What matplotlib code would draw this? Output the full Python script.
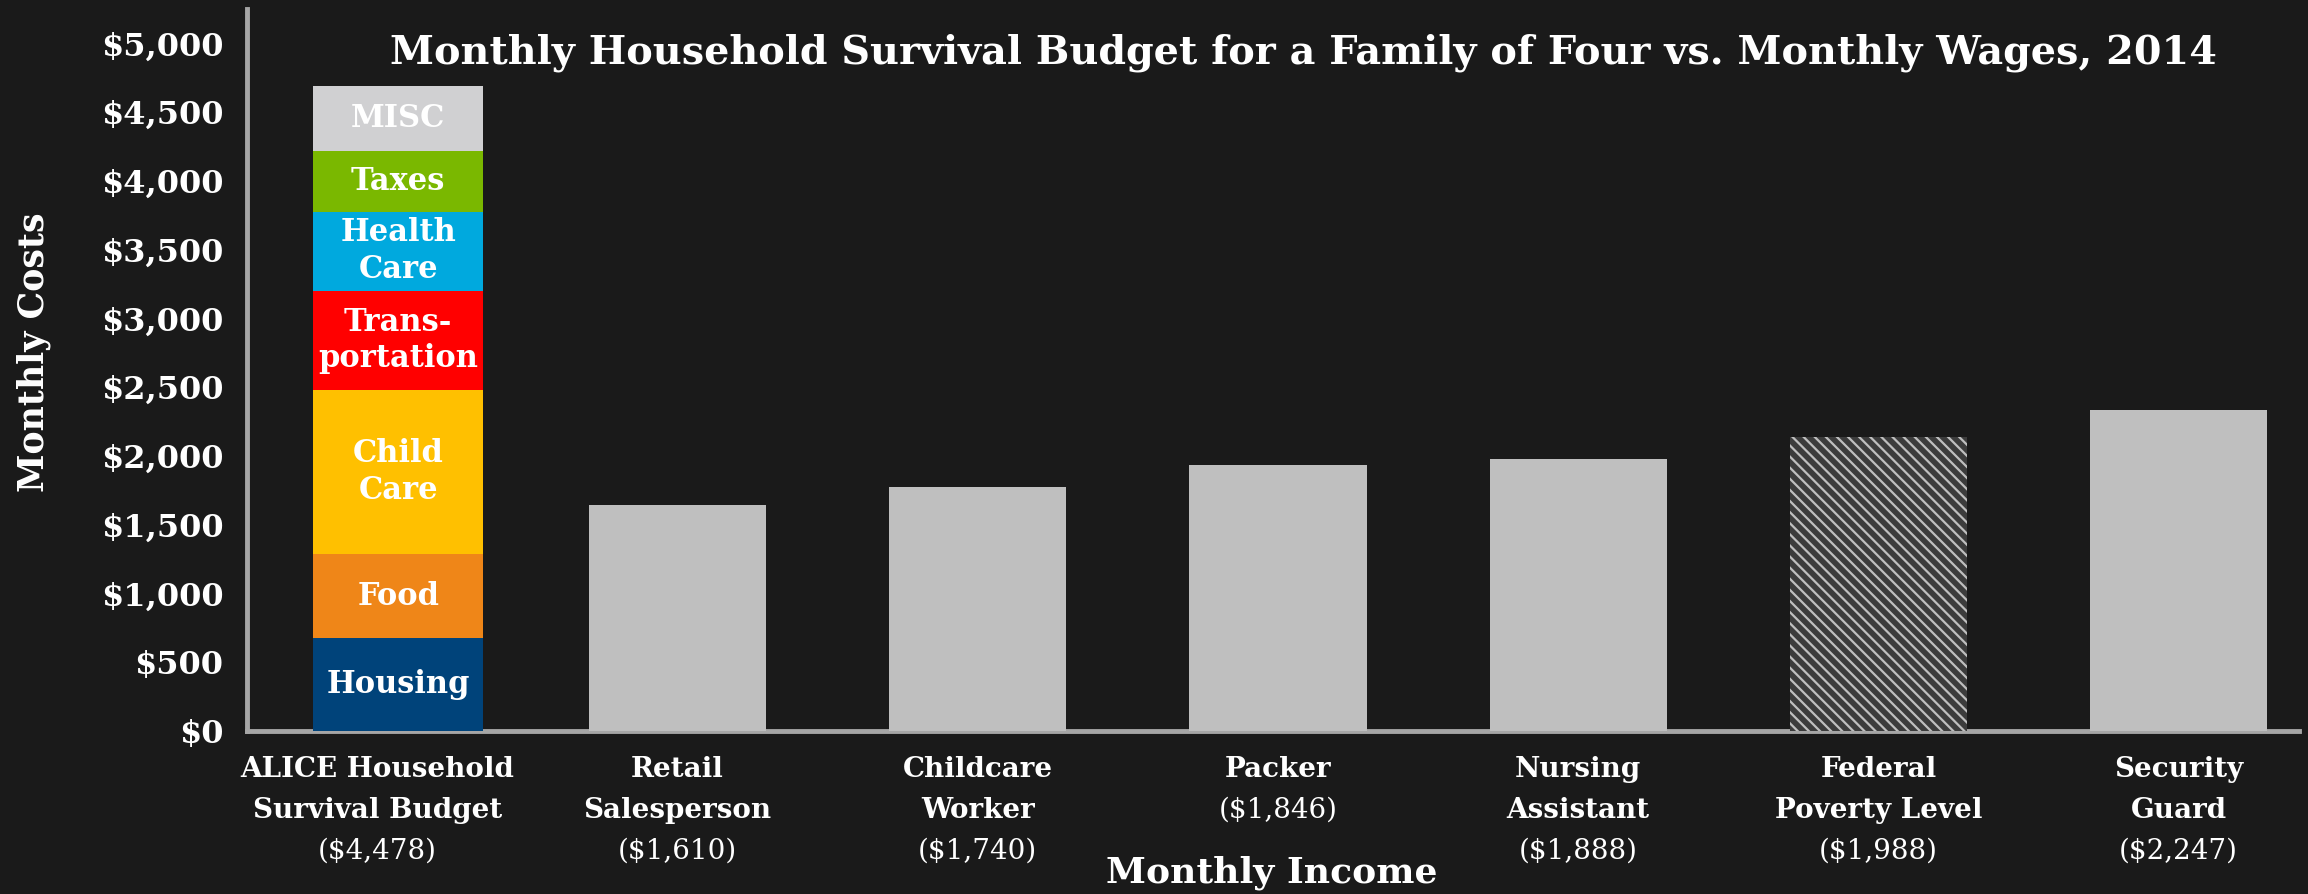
import matplotlib
matplotlib.use('Agg')
import matplotlib.pyplot as plt

# data
categories = ['ALICE Household\nSurvival Budget', 'Retail\nSalesperson', 'Childcare\nWorker',
              'Packer', 'Nursing\nAssistant', 'Federal\nPoverty Level', 'Security\nGuard']
income_labels = ['($4,478)', '($1,610)', '($1,740)', '($1,846)', '($1,888)', '($1,988)', '($2,247)']
wage_values = [1645, 1776, 1936, 1980, 2140, 2336]
budget_items = ['Housing', 'Food', 'Child\nCare', 'Trans-\nportation', 'Health\nCare', 'Taxes', 'MISC']
budget_values = [677, 609, 1196, 720, 575, 439, 471]
budget_colors = ['#00437a', '#ef8618', '#ffc000', '#ff0000', '#00a9de', '#7ab800', '#d0d0d2']
y_ticks = [0, 500, 1000, 1500, 2000, 2500, 3000, 3500, 4000, 4500, 5000]

BG = '#1a1a1a'
FG = '#ffffff'
SERIF = 'DejaVu Serif'
plt.rcParams['hatch.linewidth'] = 1.6

W, H = 2308, 894
fig = plt.figure(figsize=(W / 100, H / 100), dpi=100, facecolor=BG)
ax = fig.add_axes([247 / W, (H - 731) / H, (2299 - 247) / W, (731 - 9) / H])
ax.set_facecolor(BG)

# stacked survival budget bar
bottom = 0
for item, val, col in zip(budget_items, budget_values, budget_colors):
    ax.bar(0.07, val, width=0.567, bottom=bottom, color=col, zorder=3)
    ax.text(0.07, bottom + val / 2, item, ha='center', va='center', color=FG,
            fontsize=22, fontweight='bold', family=SERIF, linespacing=1.22, zorder=4)
    bottom += val

# wage bars
for i, val in enumerate(wage_values, start=1):
    if categories[i].startswith('Federal'):
        ax.bar(i, val, width=0.59, color='#3c3c3c', edgecolor='#bfbfbf',
               linewidth=0, hatch='\\\\\\', zorder=3)
    else:
        ax.bar(i, val, width=0.59, color='#bfbfbf', zorder=3)

ax.set_xlim(-0.434, 6.401)
ax.set_ylim(0, 5250)
ax.set_yticks(y_ticks)
ax.set_yticklabels(['${:,}'.format(v) for v in y_ticks], fontsize=23,
                   fontweight='bold', family=SERIF, color=FG)
ax.set_xticks([])
ax.tick_params(axis='y', length=0, pad=17)
for s in ['top', 'right']:
    ax.spines[s].set_visible(False)
for s in ['left', 'bottom']:
    ax.spines[s].set_color('#a6a6a6')
    ax.spines[s].set_linewidth(3.5)
    ax.spines[s].set_zorder(2)

# category labels under the axis
to_fig = ax.transData
for i, (name, inc) in enumerate(zip(categories, income_labels)):
    xc = to_fig.transform((i, 0))[0] / W
    lines = name.split('\n')
    for j, ln in enumerate(lines):
        fig.text(xc, 1 - (777 + 41 * j) / H, ln, ha='center', va='baseline',
                 fontsize=20, fontweight='bold', family=SERIF, color=FG)
    fig.text(xc, 1 - (777 + 41 * len(lines)) / H, inc, ha='center', va='baseline',
             fontsize=20, family=SERIF, color=FG)

fig.text(1303 / W, 1 - 63 / H,
         'Monthly Household Survival Budget for a Family of Four vs. Monthly Wages, 2014',
         ha='center', va='baseline', fontsize=28.6, fontweight='bold', family=SERIF, color=FG)
fig.text(1272 / W, 1 - 883 / H, 'Monthly Income', ha='center', va='baseline',
         fontsize=26, fontweight='bold', family=SERIF, color=FG)
fig.text(34 / W, 1 - 352 / H, 'Monthly Costs', ha='center', va='center', rotation=90,
         fontsize=25, fontweight='bold', family=SERIF, color=FG)

fig.savefig('out.png', dpi=100, facecolor=BG)
